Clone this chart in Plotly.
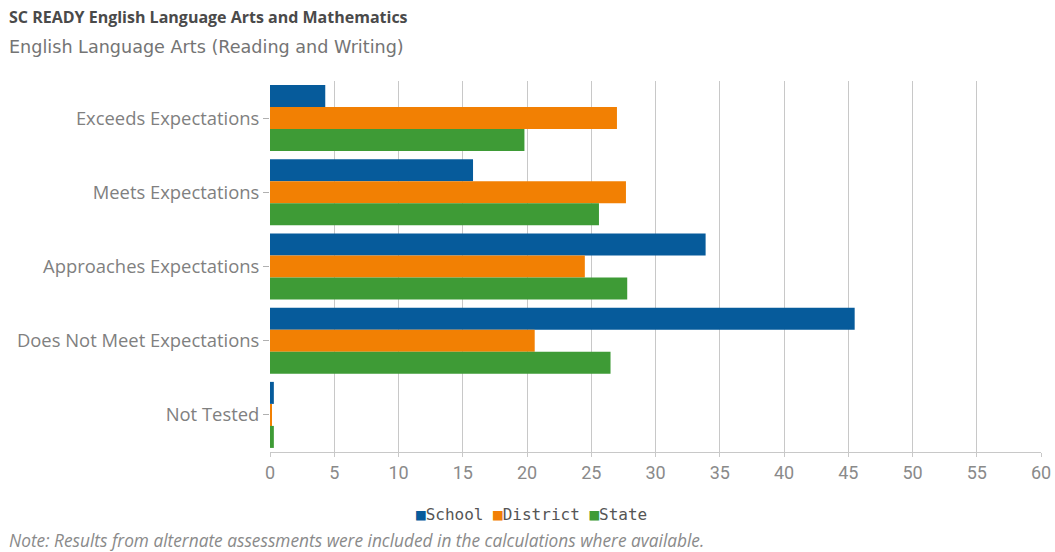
import plotly.graph_objects as go

# Performance levels, top to bottom
categories = [
    "Exceeds Expectations",
    "Meets Expectations",
    "Approaches Expectations",
    "Does Not Meet Expectations",
    "Not Tested",
]

# Percent of students at each level
school = [4.3, 15.8, 33.9, 45.5, 0.3]
district = [27.0, 27.7, 24.5, 20.6, 0.1]
state = [19.8, 25.6, 27.8, 26.5, 0.3]

series_names = ["School", "District", "State"]
series_values = [school, district, state]
series_colors = ["#065b9b", "#f28003", "#3e9b36"]

x_ticks = list(range(0, 61, 5))

fig = go.Figure()
for name, vals, color in zip(series_names, series_values, series_colors):
    fig.add_trace(go.Bar(
        y=categories, x=vals, name=name, orientation="h",
        marker=dict(color=color, line=dict(width=0)),
    ))

# Compact legend line under the axis: colored square followed by series name
legend_text = " ".join(
    f"<span style='color:{c}'>■</span>{n}" for n, c in zip(series_names, series_colors)
)

fig.update_layout(
    width=1055, height=552,
    margin=dict(l=270, r=14, t=81, b=100),
    paper_bgcolor="white", plot_bgcolor="white",
    barmode="group", bargap=0.11, bargroupgap=0,
    showlegend=False,
    font=dict(family="Open Sans", color="#7a7a7a"),
    xaxis=dict(
        range=[0, 60], tickvals=x_ticks, ticktext=[str(t) for t in x_ticks],
        showgrid=True, gridcolor="#c8c8c8", gridwidth=1,
        showline=True, linecolor="#c8c8c8", linewidth=1,
        ticks="outside", ticklen=4, tickcolor="#c8c8c8",
        tickfont=dict(size=18, color="#8a8a8a", family="Liberation Sans Narrow, Roboto"),
        zeroline=False, fixedrange=True, automargin=False,
    ),
    yaxis=dict(
        categoryorder="array", categoryarray=categories, autorange="reversed",
        ticks="outside", ticklen=6, tickcolor="#b0b0b0",
        tickfont=dict(size=18.4, color="#808080", family="Open Sans"),
        showline=False, showgrid=False, fixedrange=True, automargin=False,
    ),
    annotations=[
        dict(text="<b>SC READY English Language Arts and Mathematics</b>",
             xref="paper", yref="paper", x=(7 - 270) / 771, y=1 + (81 - 17) / 371,
             xanchor="left", yanchor="middle", showarrow=False,
             font=dict(size=16, color="#4a4a4a", family="Open Sans")),
        dict(text="English Language Arts (Reading and Writing)",
             xref="paper", yref="paper", x=(7 - 270) / 771, y=1 + (81 - 47) / 371,
             xanchor="left", yanchor="middle", showarrow=False,
             font=dict(size=17.6, color="#747474", family="DejaVu Sans")),
        dict(text=legend_text,
             xref="paper", yref="paper", x=(531 - 270) / 771, y=-(514 - 452) / 371,
             xanchor="center", yanchor="middle", showarrow=False,
             font=dict(size=16, color="#555555", family="DejaVu Sans Mono")),
        dict(text="<i>Note: Results from alternate assessments were included in the calculations where available.</i>",
             xref="paper", yref="paper", x=(7 - 270) / 771, y=-(540 - 452) / 371,
             xanchor="left", yanchor="middle", showarrow=False,
             font=dict(size=17.3, color="#8a8a8a", family="Open Sans")),
    ],
)

fig.write_html("out.html")
